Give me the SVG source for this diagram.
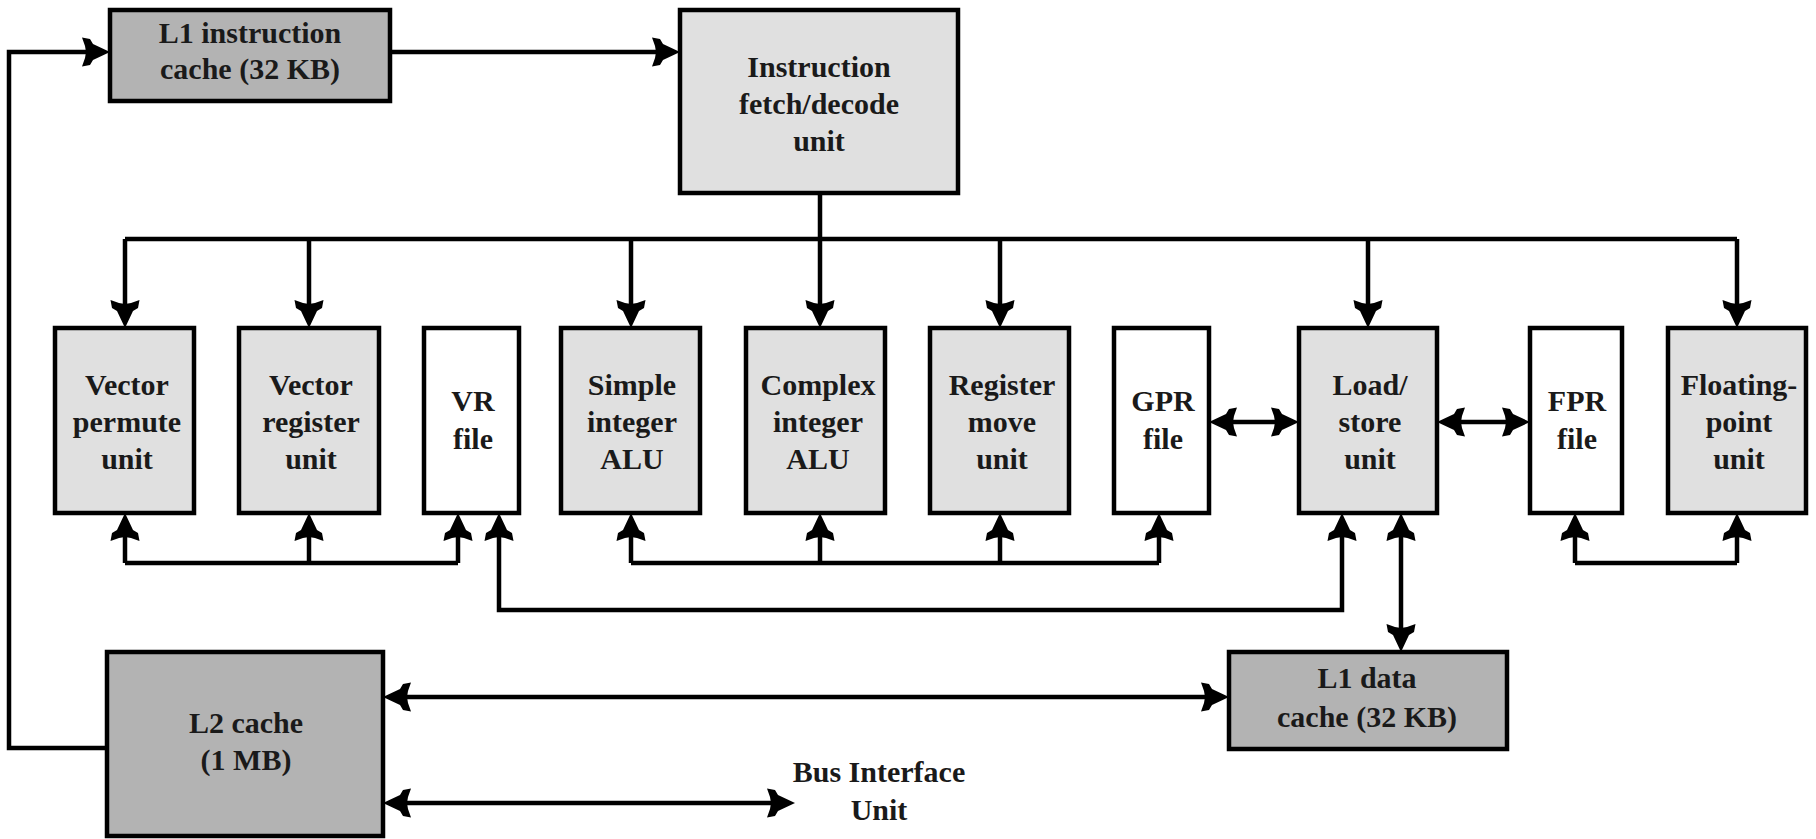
<svg xmlns="http://www.w3.org/2000/svg" width="1816" height="839" viewBox="0 0 1816 839">
<style>
.box{stroke:#000;stroke-width:4.5}
.unit{fill:#e0e0e0}
.cache{fill:#b3b3b3}
.file{fill:#fff}
text{font-family:"Liberation Serif","Times New Roman",serif;font-weight:bold;font-size:30px;fill:#1a1a1a;text-anchor:middle}
.c{fill:none;stroke:#000;stroke-width:4.5}
.a{marker-end:url(#ah)}
.b{marker-start:url(#ah);marker-end:url(#ah)}
</style>
<defs>
<marker id="ah" markerUnits="userSpaceOnUse" viewBox="-30 -16 32 32" markerWidth="32" markerHeight="32" refX="-10" refY="0" orient="auto-start-reverse">
<path d="M0,0 L-17,-8 L-20,-13 L-28,-14.5 L-25,-6 L-24,0 L-25,6 L-28,14.5 L-20,13 L-17,8 Z" fill="#000"/>
</marker>
</defs>
<g id="connectors">
<path class="c a" d="M390,52 H670"/>
<path class="c a" d="M107,748 H9 V52 H100"/>
<path class="c" d="M820,193 V239 M125,239 H1737"/>
<path class="c a" d="M125,239 V318"/>
<path class="c a" d="M309,239 V318"/>
<path class="c a" d="M631,239 V318"/>
<path class="c a" d="M820,239 V318"/>
<path class="c a" d="M1000,239 V318"/>
<path class="c a" d="M1368,239 V318"/>
<path class="c a" d="M1737,239 V318"/>
<path class="c" d="M125,563 H458 M631,563 H1159 M1575,563 H1737"/>
<path class="c a" d="M125,563 V523"/>
<path class="c a" d="M309,563 V523"/>
<path class="c a" d="M458,563 V523"/>
<path class="c a" d="M631,563 V523"/>
<path class="c a" d="M820,563 V523"/>
<path class="c a" d="M1000,563 V523"/>
<path class="c a" d="M1159,563 V523"/>
<path class="c a" d="M1575,563 V523"/>
<path class="c a" d="M1737,563 V523"/>
<path class="c b" d="M1219,422 H1289"/>
<path class="c b" d="M1447,422 H1520"/>
<path class="c b" d="M499,523 V610 H1342 V523"/>
<path class="c b" d="M1401,523 V642"/>
<path class="c b" d="M393,697 H1219"/>
<path class="c b" d="M393,803 H785"/>
</g>
<g id="l1i"><rect class="box cache" x="110" y="10" width="280" height="91"/><text x="250" y="43">L1 instruction</text><text x="250" y="79">cache (32 KB)</text></g>
<g id="fetch"><rect class="box unit" x="680" y="10" width="278" height="183"/><text x="819" y="77">Instruction</text><text x="819" y="114">fetch/decode</text><text x="819" y="151">unit</text></g>
<g id="vperm"><rect class="box unit" x="55" y="328" width="139" height="185"/><text x="127" y="395">Vector</text><text x="127" y="432">permute</text><text x="127" y="469">unit</text></g>
<g id="vreg"><rect class="box unit" x="239" y="328" width="140" height="185"/><text x="311" y="395">Vector</text><text x="311" y="432">register</text><text x="311" y="469">unit</text></g>
<g id="vrfile"><rect class="box file" x="424" y="328" width="95" height="185"/><text x="473" y="411">VR</text><text x="473" y="449">file</text></g>
<g id="simple"><rect class="box unit" x="561" y="328" width="139" height="185"/><text x="632" y="395">Simple</text><text x="632" y="432">integer</text><text x="632" y="469">ALU</text></g>
<g id="complex"><rect class="box unit" x="746" y="328" width="139" height="185"/><text x="818" y="395">Complex</text><text x="818" y="432">integer</text><text x="818" y="469">ALU</text></g>
<g id="regmove"><rect class="box unit" x="930" y="328" width="139" height="185"/><text x="1002" y="395">Register</text><text x="1002" y="432">move</text><text x="1002" y="469">unit</text></g>
<g id="gprfile"><rect class="box file" x="1114" y="328" width="95" height="185"/><text x="1163" y="411">GPR</text><text x="1163" y="449">file</text></g>
<g id="loadstore"><rect class="box unit" x="1299" y="328" width="138" height="185"/><text x="1370" y="395">Load/</text><text x="1370" y="432">store</text><text x="1370" y="469">unit</text></g>
<g id="fprfile"><rect class="box file" x="1530" y="328" width="92" height="185"/><text x="1577" y="411">FPR</text><text x="1577" y="449">file</text></g>
<g id="fpu"><rect class="box unit" x="1668" y="328" width="138" height="185"/><text x="1739" y="395">Floating-</text><text x="1739" y="432">point</text><text x="1739" y="469">unit</text></g>
<g id="l2"><rect class="box cache" x="107" y="652" width="276" height="184"/><text x="246" y="733">L2 cache</text><text x="246" y="770">(1 MB)</text></g>
<g id="l1d"><rect class="box cache" x="1229" y="652" width="278" height="97"/><text x="1367" y="688">L1 data</text><text x="1367" y="727">cache (32 KB)</text></g>
<g id="biu"><text x="879" y="782">Bus Interface</text><text x="879" y="820">Unit</text></g>
</svg>
